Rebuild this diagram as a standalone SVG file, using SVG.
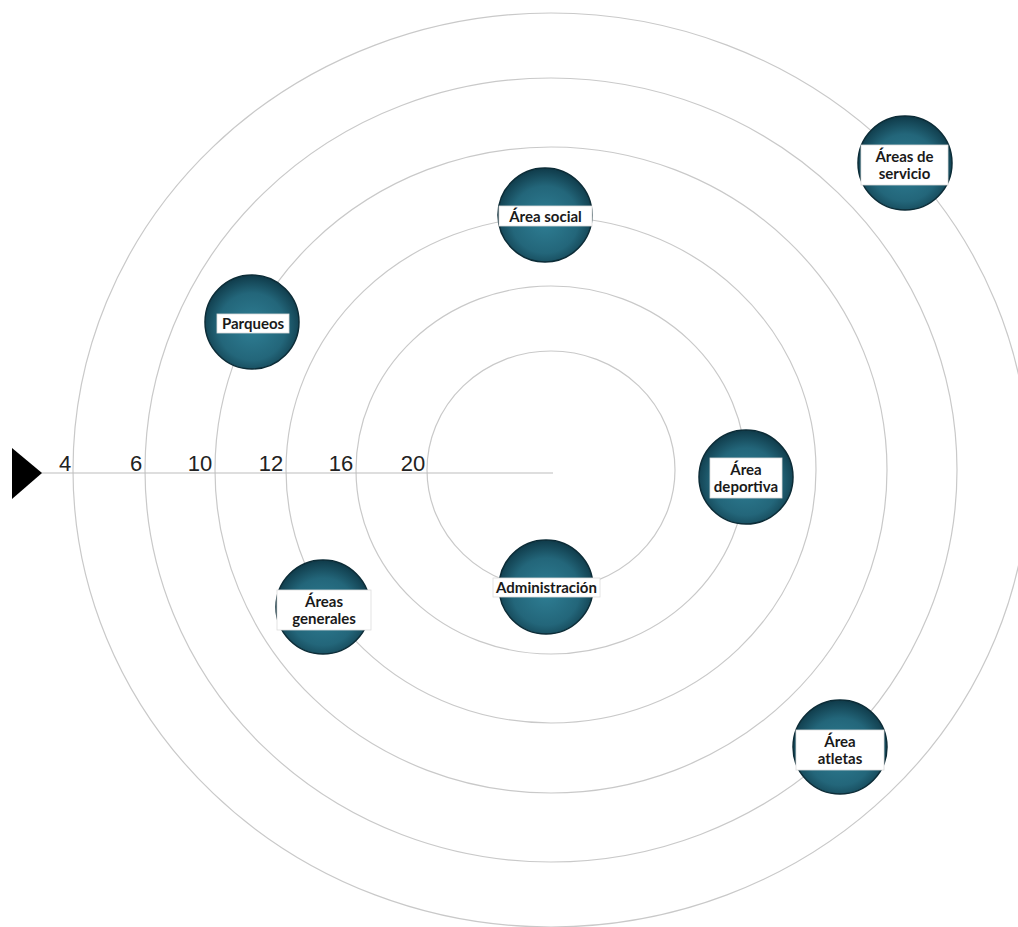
<svg xmlns="http://www.w3.org/2000/svg" width="1018" height="927" viewBox="0 0 1018 927">
<style>
.ring{fill:none;stroke:#c9c9c9;stroke-width:1.2}
.axis{stroke:#bdbdbd;stroke-width:1.2}
.num{font-family:"Liberation Sans",Arial,sans-serif;font-size:22px;fill:#222;text-anchor:middle}
.ball{fill:url(#g);stroke:#0c2c37;stroke-width:1.5}
.box{fill:#fff;stroke:#dcdcdc;stroke-width:0.8}
.lbl{font-family:"Lato","Open Sans",sans-serif;font-weight:bold;font-size:15px;fill:#1a1a1a;text-anchor:middle}
</style>
<defs>
<radialGradient id="g" cx="50%" cy="55%" r="55%">
<stop offset="0%" stop-color="#2f7f95"/>
<stop offset="65%" stop-color="#23667a"/>
<stop offset="100%" stop-color="#0f3a49"/>
</radialGradient>
</defs>
<rect width="1018" height="927" fill="#fff"/>
<g id="rings">
<ellipse class="ring" cx="551" cy="470" rx="478" ry="457"/>
<ellipse class="ring" cx="551" cy="470" rx="406" ry="392"/>
<ellipse class="ring" cx="551" cy="470" rx="336" ry="323"/>
<ellipse class="ring" cx="551" cy="470" rx="265" ry="253"/>
<ellipse class="ring" cx="551" cy="470" rx="195" ry="184"/>
<ellipse class="ring" cx="551" cy="470" rx="124" ry="119"/>
</g>
<g id="axis">
<line class="axis" x1="40" y1="473" x2="553" y2="473"/>
<polygon points="12,448 42,473 12,499" fill="#000"/>
<text class="num" x="65" y="471">4</text>
<text class="num" x="136" y="471">6</text>
<text class="num" x="200" y="471">10</text>
<text class="num" x="271" y="471">12</text>
<text class="num" x="341" y="471">16</text>
<text class="num" x="413" y="471">20</text>
</g>
<g id="areas-servicio">
<circle class="ball" cx="905" cy="163" r="47"/>
<rect class="box" x="861" y="145" width="87" height="40"/>
<text class="lbl" x="904.5" y="162">Áreas de</text>
<text class="lbl" x="904.5" y="179">servicio</text>
</g>
<g id="area-social">
<circle class="ball" cx="545" cy="215" r="47"/>
<rect class="box" x="499" y="206" width="93" height="20"/>
<text class="lbl" x="545.5" y="221.5">Área social</text>
</g>
<g id="parqueos">
<circle class="ball" cx="252" cy="322" r="47"/>
<rect class="box" x="217" y="314" width="72" height="19"/>
<text class="lbl" x="253" y="328.5">Parqueos</text>
</g>
<g id="area-deportiva">
<circle class="ball" cx="746" cy="477" r="47"/>
<rect class="box" x="710" y="458" width="72" height="40"/>
<text class="lbl" x="746" y="475">Área</text>
<text class="lbl" x="746" y="492">deportiva</text>
</g>
<g id="administracion">
<circle class="ball" cx="546" cy="587" r="47"/>
<rect class="box" x="493" y="578" width="107" height="19"/>
<text class="lbl" x="546.5" y="592.5">Administración</text>
</g>
<g id="areas-generales">
<circle class="ball" cx="323" cy="607" r="47"/>
<rect class="box" x="277" y="590" width="94" height="40"/>
<text class="lbl" x="324" y="607">Áreas</text>
<text class="lbl" x="324" y="624">generales</text>
</g>
<g id="area-atletas">
<circle class="ball" cx="840" cy="747" r="47"/>
<rect class="box" x="796" y="730" width="88" height="40"/>
<text class="lbl" x="840" y="747">Área</text>
<text class="lbl" x="840" y="764">atletas</text>
</g>
</svg>
